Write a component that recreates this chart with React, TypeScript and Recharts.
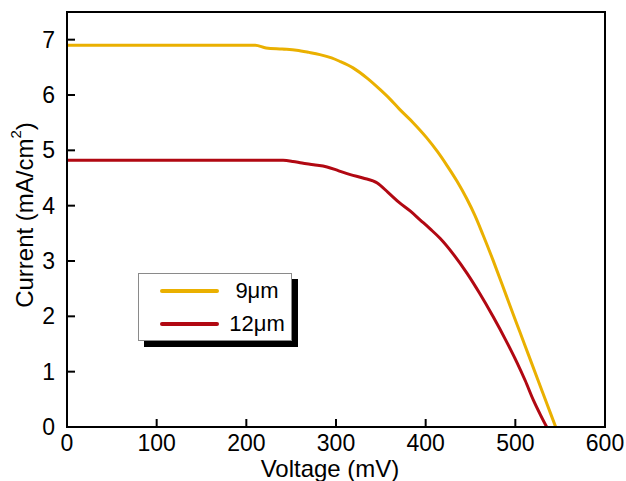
import { Legend, Line, LineChart, ReferenceArea, XAxis, YAxis, Label } from 'recharts';

// J-V curves (voltage in mV, current density in mA/cm2)
const voltage9 = [0, 100, 200, 210, 222, 240, 256, 270, 282, 295, 304, 319, 335, 349, 360, 371, 386, 401, 413, 424, 435, 446, 455, 464, 475, 485, 495, 505, 515, 525, 535, 545];
const current9 = [6.9, 6.9, 6.9, 6.9, 6.85, 6.83, 6.81, 6.77, 6.73, 6.67, 6.61, 6.49, 6.3, 6.1, 5.93, 5.74, 5.5, 5.23, 4.98, 4.72, 4.44, 4.12, 3.82, 3.47, 3.02, 2.59, 2.15, 1.72, 1.29, 0.86, 0.43, 0];

const voltage12 = [0, 100, 200, 241, 252, 262, 275, 290, 303, 316, 330, 346, 358, 371, 383, 394, 405, 416, 431, 446, 460, 475, 489, 502, 511, 520, 528, 535];
const current12 = [4.82, 4.82, 4.82, 4.82, 4.8, 4.77, 4.74, 4.7, 4.63, 4.56, 4.5, 4.41, 4.24, 4.05, 3.9, 3.74, 3.58, 3.41, 3.12, 2.78, 2.42, 2.0, 1.58, 1.16, 0.84, 0.49, 0.22, 0];

const xTicks = [0, 100, 200, 300, 400, 500, 600];
const yTicks = [0, 1, 2, 3, 4, 5, 6, 7];

const series = [
  { name: '9\u03bcm', color: '#EAB000', data: voltage9.map((v, i) => ({ v, j: current9[i] })) },
  { name: '12\u03bcm', color: '#B10812', data: voltage12.map((v, i) => ({ v, j: current12[i] })) },
];

const FONT = '"Liberation Sans", Arial, sans-serif';

function LegendBox() {
  return (
    <div
      style={{
        width: 152,
        height: 66,
        border: '1px solid #8a8a8a',
        background: '#fff',
        boxShadow: '6px 6px 0 #000',
        fontFamily: FONT,
        fontSize: 22,
        color: '#000',
        boxSizing: 'content-box',
      }}
    >
      {series.map((s) => (
        <div key={s.name} style={{ display: 'flex', alignItems: 'center', height: 33, paddingLeft: 21 }}>
          <div style={{ width: 59, height: 4, background: s.color, borderRadius: 2 }} />
          <span style={{ marginLeft: 8, width: 60, textAlign: 'center' }}>{s.name}</span>
        </div>
      ))}
    </div>
  );
}

export default function App() {
  return (
    <div style={{ position: 'absolute', left: 0, top: 0, background: '#fff' }}>
      <LineChart width={626} height={481} margin={{ top: 12, right: 21, left: 0, bottom: 0 }}>
        <XAxis
          dataKey="v"
          type="number"
          domain={[0, 600]}
          ticks={xTicks}
          height={54}
          allowDataOverflow
          stroke="#000"
          strokeWidth={2}
          tickSize={-8}
          tickMargin={16}
          tick={{ fill: '#000', fontSize: 23, fontFamily: FONT }}
        >
          <Label
            content={() => (
              <text x={330} y={477} textAnchor="middle" fontSize={24} fontFamily={FONT} fill="#000">
                Voltage (mV)
              </text>
            )}
          />
        </XAxis>
        <YAxis
          dataKey="j"
          type="number"
          domain={[0, 7.5]}
          ticks={yTicks}
          width={67}
          stroke="#000"
          strokeWidth={2}
          tickSize={-8}
          tickMargin={20}
          tick={{ fill: '#000', fontSize: 23, fontFamily: FONT }}
        >
          <Label
            content={() => (
              <text
                x={24}
                y={215}
                transform="rotate(-90 24 215)"
                textAnchor="middle"
                dominantBaseline="central"
                fontSize={24}
                fontFamily={FONT}
                fill="#000"
              >
                Current (mA/cm<tspan dy={-9} fontSize={15}>2</tspan>
                <tspan dy={9}>)</tspan>
              </text>
            )}
          />
        </YAxis>
        <ReferenceArea x1={0} x2={600} y1={0} y2={7.5} fill="none" stroke="#000" strokeWidth={2} />
        {series.map((s) => (
          <Line
            key={s.name}
            data={s.data}
            dataKey="j"
            name={s.name}
            type="monotone"
            stroke={s.color}
            strokeWidth={3}
            dot={false}
            isAnimationActive={false}
          />
        ))}
        <Legend
          verticalAlign="middle"
          align="center"
          layout="horizontal"
          content={() => <LegendBox />}
          wrapperStyle={{ left: 138, top: 273, width: 160, height: 72 }}
        />
      </LineChart>
    </div>
  );
}
